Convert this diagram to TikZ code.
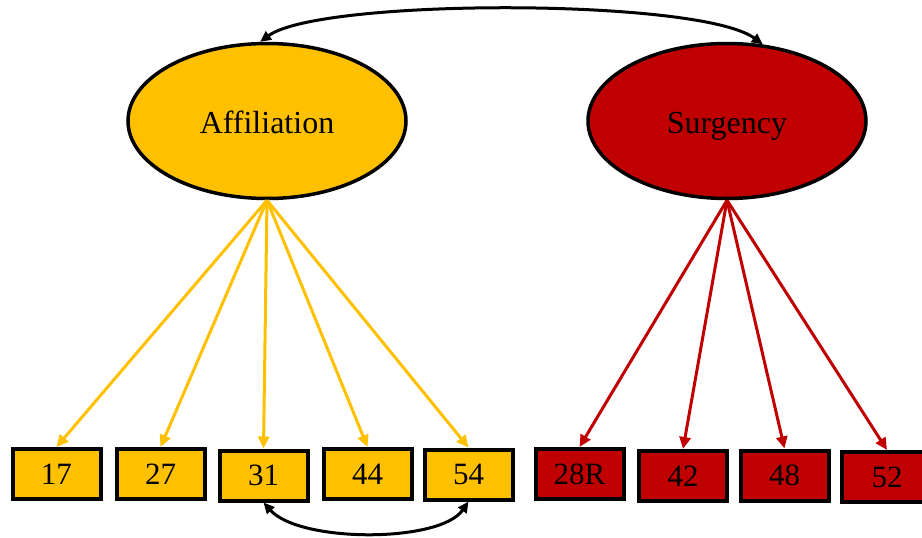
\documentclass[tikz,border=0pt]{standalone}
\usepackage{fontspec}
\setmainfont{Liberation Serif}
\usetikzlibrary{arrows.meta,shapes.geometric}
\definecolor{aff}{HTML}{FFC000}
\definecolor{sur}{HTML}{C00000}
\tikzset{
  latent/.style={ellipse,draw=black,line width=3.5pt,minimum width=278pt,minimum height=155pt,inner sep=0pt,font=\fontsize{32}{32}\selectfont,text height=24pt,text depth=0pt},
  obs/.style={rectangle,draw=black,line width=4pt,minimum width=88pt,minimum height=50pt,inner sep=0pt,font=\fontsize{31}{31}\selectfont},
  load/.style={line width=3pt,-{Triangle[length=12pt,width=11pt]}},
  cov/.style={line width=3pt,black,{Triangle[length=11pt,width=10pt]}-{Triangle[length=11pt,width=10pt]}}
}
\begin{document}
\begin{tikzpicture}[x=1pt,y=-1pt]
\useasboundingbox (0,0) rectangle (922,538);
\clip (0,0) rectangle (922,538);
\node[latent,fill=aff] (aff) at (267,121) {Affiliation};
\node[latent,fill=sur] (sur) at (727,121) {Surgency};
\node[obs,fill=aff] (b17) at (56.5,474) {17};
\node[obs,fill=aff] (b27) at (160.5,474) {27};
\node[obs,fill=aff] (b31) at (263.5,475.5) {31};
\node[obs,fill=aff] (b44) at (367.5,474) {44};
\node[obs,fill=aff] (b54) at (468.5,474.5) {54};
\node[obs,fill=sur] (b28) at (579.5,474) {28R};
\node[obs,fill=sur] (b42) at (683,476) {42};
\node[obs,fill=sur] (b48) at (784.5,475.5) {48};
\node[obs,fill=sur,minimum width=90pt] (b52) at (887,477) {52};
\foreach \b in {b17,b27,b31,b44,b54} \draw[load,aff] (aff.south) -- (\b.north);
\foreach \b in {b28,b42,b48,b52} \draw[load,sur] (sur.south) -- (\b.north);
\draw[cov] (aff.95) .. controls (320,-2) and (700,-2) .. (sur.65);
\draw[cov] (b31.south) .. controls (300,543) and (440,543) .. (b54.south);
\end{tikzpicture}
\end{document}
